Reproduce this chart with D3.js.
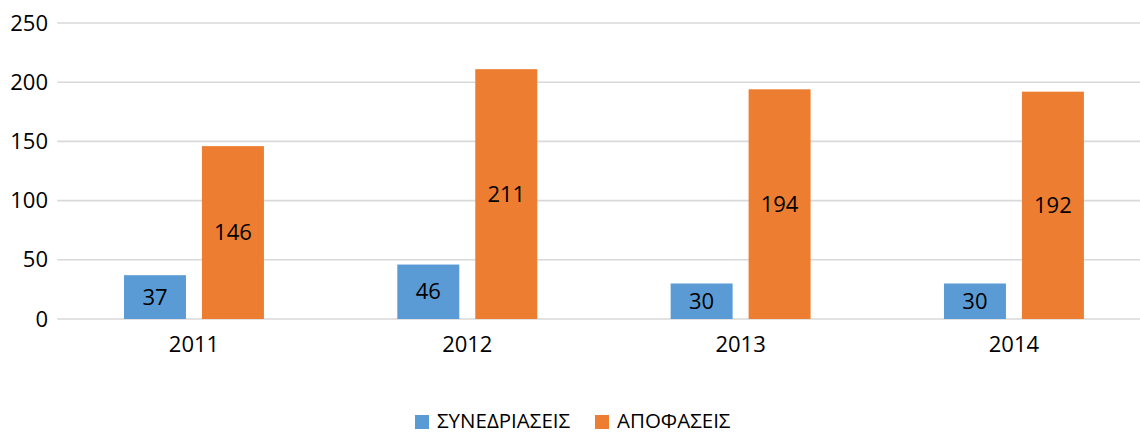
<!DOCTYPE html>
<html><head><meta charset="utf-8">
<script src="https://cdn.jsdelivr.net/npm/d3@7"></script>
<style>
html,body{margin:0;padding:0;background:#fff;}
svg{display:block;font-family:"Open Sans",sans-serif;}
</style></head>
<body><svg id="chart" width="1140" height="433"></svg>
<script>
const categories = ["2011", "2012", "2013", "2014"];
const seriesNames = ["ΣΥΝΕΔΡΙΑΣΕΙΣ", "ΑΠΟΦΑΣΕΙΣ"];
const sessions = [37, 46, 30, 30];
const decisions = [146, 211, 194, 192];
const yTicks = [0, 50, 100, 150, 200, 250];
const colors = ["#5B9BD5", "#ED7D31"];

const svg = d3.select("#chart");
const x = d3.scaleBand().domain(categories).range([57.3, 1150.6]).paddingOuter(0.244).paddingInner(0.488);
const xs = d3.scaleBand().domain(seriesNames).range([0, x.bandwidth()]).paddingInner(0.205);
const y = d3.scaleLinear().domain([0, 250]).range([319, 23]);

// gridlines
svg.append("g").selectAll("line").data(yTicks).join("line")
  .attr("x1", 57.3).attr("x2", 1150).attr("y1", d => y(d)).attr("y2", d => y(d))
  .attr("stroke", "#d9d9d9").attr("stroke-width", 1.6);

// y labels
const yAxis = d3.axisLeft(y).tickValues(yTicks).tickSize(0).tickPadding(0);
const ya = svg.append("g").attr("transform", "translate(48,0)").call(yAxis);
ya.select(".domain").remove();
ya.selectAll("text").attr("font-size", 22).attr("fill", "#000").attr("font-family", "Open Sans");

const rows = categories.map((c, i) => ({c, vals: [sessions[i], decisions[i]]}));
const g = svg.append("g").selectAll("g").data(rows).join("g")
  .attr("transform", d => `translate(${x(d.c)},0)`);
const bars = g.selectAll("g").data(d => d.vals.map((v, j) => ({v, s: seriesNames[j], j}))).join("g");
bars.append("rect")
  .attr("x", d => xs(d.s)).attr("width", xs.bandwidth())
  .attr("y", d => y(d.v)).attr("height", d => y(0) - y(d.v))
  .attr("fill", d => colors[d.j]);
bars.append("text")
  .attr("x", d => xs(d.s) + xs.bandwidth() / 2)
  .attr("y", d => (y(d.v) + y(0)) / 2)
  .attr("dy", "0.35em").attr("text-anchor", "middle")
  .attr("font-size", 22).attr("fill", "#000")
  .text(d => d.v);

// x axis labels
const xAxis = d3.axisBottom(x).tickSize(0).tickPadding(0);
const xa = svg.append("g").call(xAxis);
xa.select(".domain").remove();
xa.selectAll("text").attr("y", 352).attr("dy", null).attr("font-size", 22).attr("fill", "#000").attr("font-family", "Open Sans");

// legend
const legend = svg.append("g");
const lx = [415, 595];
seriesNames.forEach((s, i) => {
  legend.append("rect").attr("x", lx[i]).attr("y", 415).attr("width", 14).attr("height", 14).attr("fill", colors[i]);
  legend.append("text").attr("x", lx[i] + 22).attr("y", 428).attr("font-size", 20.5).attr("fill", "#000").text(s);
});
</script></body></html>
